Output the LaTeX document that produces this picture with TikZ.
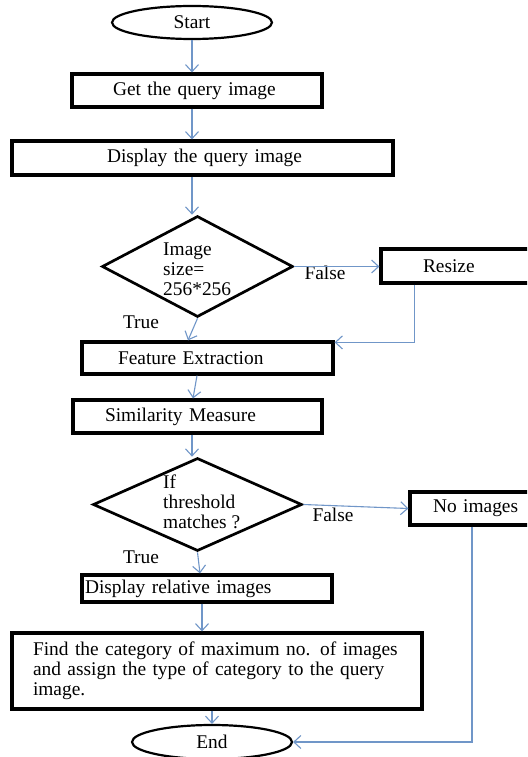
\documentclass[tikz,border=0pt]{standalone}
\usepackage{fontspec}
\setmainfont{Liberation Serif}
\usetikzlibrary{shapes.geometric,arrows.meta}
\definecolor{flowblue}{RGB}{112,150,200}
\tikzset{
  txt/.style={font=\fontsize{19.4}{20}\selectfont},
  procbox/.style={txt, draw=black, line width=3.2pt, inner xsep=0pt, inner ysep=0pt, align=left},
  decision/.style={draw=black, line width=2.7pt, shape=diamond, inner sep=0pt},
  terminal/.style={txt, draw=black, line width=2.2pt, shape=ellipse, inner sep=0pt},
  dtext/.style={txt, align=left, inner sep=0pt, anchor=west},
  lbl/.style={txt, inner sep=0pt},
  flow/.style={draw=flowblue, line width=1.1pt, -{Straight Barb[length=7pt,width=13pt]}},
}
\begin{document}
\begin{tikzpicture}[x=1pt, y=-1pt]
\useasboundingbox (0,0) rectangle (527,757);
\clip (0,0) rectangle (527,757);
\fill[white] (0,0) rectangle (527,757);

% terminals
\node[terminal, minimum width=160pt, minimum height=33pt] (start) at (192,22.5) {Start};
\node[terminal, minimum width=160pt, minimum height=34pt] (end) at (212,742) {End};

% process boxes
\node[procbox, text width=250pt, minimum height=33pt] (get) at (197,90.5) {\hspace*{41pt}Get the query image};
\node[procbox, text width=381pt, minimum height=34pt] (disp) at (202.5,158) {\hspace*{95pt}Display the query image};
\node[procbox, text width=159pt, minimum height=34pt] (resize) at (460.5,266) {\hspace*{42pt}Resize};
\node[procbox, text width=251pt, minimum height=32pt] (feat) at (207.5,358) {\hspace*{36pt}Feature Extraction};
\node[procbox, text width=249pt, minimum height=33pt] (sim) at (197.5,416.5) {\hspace*{32pt}Similarity Measure};
\node[procbox, text width=130pt, minimum height=33pt] (nomg) at (475,508.5) {\hspace*{23pt}No images};
\node[procbox, text width=250pt, minimum height=27pt] (rel) at (207,588.5) {\hspace*{3pt}Display relative images};
\node[procbox, text width=410pt, minimum height=76pt] (find) at (217,671)
  {\hspace*{21pt}Find the category of maximum no. of images\\
   \hspace*{21pt}and assign the type of category to the query\\
   \hspace*{21pt}image.};

% decisions
\node[decision, minimum width=191pt, minimum height=101pt] (d1) at (197.5,266.5) {};
\node[dtext] (d1t) at (163,269.5) {Image\\size=\\256*256};
\node[decision, minimum width=209pt, minimum height=93pt] (d2) at (197.5,504.5) {};
\node[dtext] (d2t) at (163,502) {If\\threshold\\matches ?};

% branch labels
\node[lbl] (f1) at (325,273) {False};
\node[lbl] (t1) at (141,322) {True};
\node[lbl] (f2) at (333,515) {False};
\node[lbl] (t2) at (141,557) {True};

% connectors
\draw[flow] (start.south) -- (start.south |- get.north);
\draw[flow] (start.south |- get.south) -- (start.south |- disp.north);
\draw[flow] (start.south |- disp.south) -- (start.south |- d1.north);
\draw[flow] (d1.east) -- (d1.east -| resize.west);
\draw[flow] ([xshift=35pt]resize.south west) |- ([yshift=-2pt]feat.north east);
\draw[flow] (d1.south) -- ([xshift=-19.5pt]feat.north);
\draw[flow] ([xshift=-10.5pt]feat.south) -- ([xshift=-4.5pt]sim.north);
\draw[flow] (start.south |- sim.south) -- (start.south |- d2.north);
\draw[flow] (d2.east) -- (nomg.west);
\draw[flow] (d2.south) -- ([xshift=-7pt]rel.north);
\draw[flow] ([xshift=-5pt]rel.south) -- ([xshift=-15pt]find.north);
\draw[flow] (end.north |- find.south) -- (end.north);
\draw[flow] ([xshift=-3pt]nomg.south) |- (end.east);
\end{tikzpicture}
\end{document}
